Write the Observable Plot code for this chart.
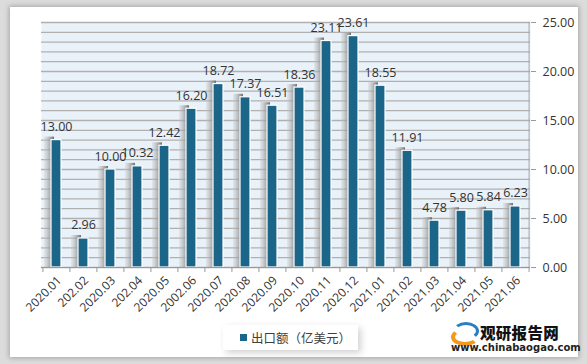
<!DOCTYPE html>
<html><head><meta charset="utf-8">
<script src="https://cdn.jsdelivr.net/npm/d3@7"></script>
<script src="https://cdn.jsdelivr.net/npm/@observablehq/plot@0.6"></script>
<style>
html,body{margin:0;padding:0}
body{width:587px;height:364px;background:#dcdcdc;overflow:hidden;position:relative;font-family:"Open Sans",sans-serif}
#panel{position:absolute;left:10px;top:7px;width:568px;height:350px;background:#fff;box-shadow:0 0 5px 1px rgba(0,0,0,.25)}
#chart{position:absolute;left:0;top:0}
#legend{position:absolute;left:223px;top:325px;width:135px;height:25px;background:#fff;box-shadow:3px 3px 7px rgba(0,0,0,.18);font:12.5px "Noto Sans CJK SC",sans-serif;color:#404040;display:flex;align-items:center}
#legend .sw{display:inline-block;width:7px;height:7px;background:#1b6589;margin:0 4px 0 17px}
#brand{position:absolute;left:480px;top:325px;font:900 15.5px/1 "Noto Sans CJK SC",sans-serif;color:#111;letter-spacing:0.3px}
#url{position:absolute;left:451px;top:343px;font:bold 10px/1 "DejaVu Sans",sans-serif;color:#222}
#logo{position:absolute;left:451px;top:322px;width:26px;height:20px}
#logo .a{position:absolute;left:2px;top:0;width:20px;height:12px;border:3px solid #2a7fc0;border-color:#2a7fc0 #2a7fc0 transparent transparent;border-radius:50%}
#logo .b{position:absolute;left:0;top:6px;width:20px;height:10px;border:4px solid #f29a1d;border-color:transparent transparent #f29a1d #f29a1d;border-radius:50%}
</style></head>
<body>
<div id="panel"></div>
<div id="chart"></div>
<div id="legend"><span class="sw"></span>出口额（亿美元）</div>
<div id="logo"><div class="a"></div><div class="b"></div></div>
<div id="brand">观研报告网</div>
<div id="url">www.chinabaogao.com</div>
<script>
const categories = ["2020.01","202.02","2020.03","202.04","2020.05","2002.06","2020.07","2020.08","2020.09","2020.10","2020.11","2020.12","2021.01","2021.02","2021.03","2021.04","2021.05","2021.06"];
const values = [13.00,2.96,10.00,10.32,12.42,16.20,18.72,17.37,16.51,18.36,23.11,23.61,18.55,11.91,4.78,5.80,5.84,6.23];
const yTicks = [0,5,10,15,20,25];
const gridTicks = d3.range(0,26,1);

const data = categories.map((c,i)=>({cat:c, value:values[i]}));

const W = 587, H = 320, ML = 41, MR = 57, MT = 22, MB = 53;
const step = (W - ML - MR) / categories.length;
const barColor = "#1b6589";

const svg = Plot.plot({
  width: W, height: H,
  marginLeft: ML, marginRight: MR, marginTop: MT, marginBottom: MB,
  style: {fontFamily: "'Open Sans', sans-serif", color: "#404040", background: "transparent"},
  x: {domain: categories, padding: 0.63, paddingOuter: 0.315, label: null},
  y: {domain: [0,25], label: null},
  marks: [
    Plot.frame({fill: "#eaf2f9", stroke: null}),
    Plot.ruleY(gridTicks, {stroke: "#b0b0b0", strokeWidth: 1.3}),
    Plot.barY(data, {x: "cat", y: "value", fill: "url(#shd)", dx: -7, insetTop: -3}),
    Plot.barY(data, {x: "cat", y: "value", fill: barColor, stroke: "#fff", strokeWidth: 1.2}),
    Plot.ruleY([0], {stroke: "#999"}),
    Plot.ruleX([categories[categories.length-1]], {dx: step/2, y1: 0, y2: 25, stroke: "#a6a6a6"}),
    Plot.ruleX(categories, {x: d=>d, y1: 0, y2: 0, dx: -step/2, insetBottom: -5, stroke: "#999"}),
    Plot.ruleX([categories[categories.length-1]], {x: d=>d, y1: 0, y2: 0, dx: step/2, insetBottom: -5, stroke: "#999"}),
    Plot.text(data, {x: "cat", y: "value", text: d=>d.value.toFixed(2), dy: -13, fontSize: 12.5, fill: "#333"}),
    Plot.axisX({tickSize: 0, tickPadding: 11, dx: 3, tickRotate: -45, fontSize: 12, fill: "#333"}),
    Plot.axisY({anchor: "right", ticks: yTicks, tickFormat: d=>d.toFixed(2), tickSize: 5, tickPadding: 7, fontSize: 12.5, fill: "#333", stroke: "#999"})
  ]
});

const defs = document.createElementNS("http://www.w3.org/2000/svg","defs");
defs.innerHTML = '<linearGradient id="shd" x1="0" x2="1" y1="0" y2="0"><stop offset="0" stop-color="#c8c8c8" stop-opacity="0.3"/><stop offset="1" stop-color="#6e6e6e" stop-opacity="1"/></linearGradient>';
svg.insertBefore(defs, svg.firstChild);
document.getElementById("chart").appendChild(svg);
</script>
</body></html>
